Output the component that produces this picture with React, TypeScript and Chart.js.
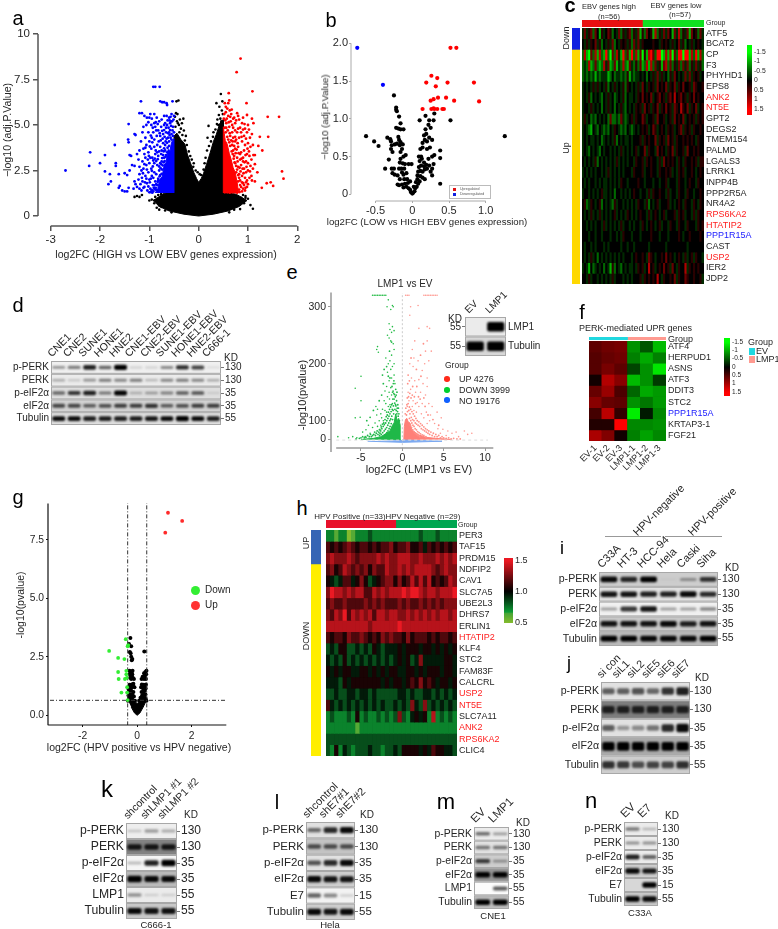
import React, { useEffect, useRef } from 'react';
import { Chart, registerables } from 'chart.js';
Chart.register(...registerables);

const FONT = '"Liberation Sans", Arial, sans-serif';
const INK = '#262626';

/* ---------- panel a ---------- */
const aBlue = [[-2.7,2.5],[-2.22,2.75],[-2.2,3.5],[-2,2.9],[-1.9,3.35],[-1.9,2.45],[-1.8,2.3],[-1.83,1.75],[-1.78,1.9],[-1.7,3.9],[-1.68,2.9],[-1.68,2.75],[-1.62,2.3],[-1.6,1.65],[-1.62,1.55],[-1.55,1.4],[-1.5,1.35],[-1.45,1.35],[-1.42,1.55],[-1.5,2.35],[-1.45,2.25],[-1.4,2.5],[-1.42,5.05],[-1.43,4.2],[-1.42,4.05],[-1.3,4.5],[-1.28,4.45],[-1.4,3.35],[-1.37,3.3],[-1.35,2.8],[-1.3,2.75],[-1.3,1.9],[-1.28,1.75],[-1.32,1.5],[-1.25,1.6],[-1.25,3.4],[-1.22,3.1],[-1.2,2.7],[-1.2,2.3],[-1.15,2.1],[-1.17,6.3],[-1.2,5.65],[-1.15,5.65],[-1.1,5.5],[-1.05,5.4],[-1,5.4],[-.98,5.6],[-.92,7.1],[-.88,7.1],[-.79,7.1],[-.78,6.3],[-.74,6.25],[-.7,6.25],[-.64,6.1],[-.65,6.2],[-.53,6.3],[-.9,5.6],[-.85,5.4],[-.8,5.2],[-.75,5.3],[-.7,5.5],[-.65,5.5],[-.6,5.4],[-.55,5.6],[-.5,5.5],[-1.12,4.9],[-1.08,4.3],[-1.02,4.6],[-.96,5.0],[-.92,4.6],[-.88,4.9],[-.82,4.7],[-.76,4.9],[-.7,5.0],[-.64,5.0],[-.58,5.1],[-1.12,3.7],[-1.06,3.9],[-1,4.1],[-.95,4.3],[-.9,4.2],[-.85,4.4],[-.78,4.4],[-.72,4.5],[-.66,4.6],[-.6,4.6],[-1.14,3.0],[-1.08,3.2],[-1.02,3.5],[-.96,3.7],[-.9,3.8],[-.84,3.9],[-.78,3.8],[-.72,4.0],[-.68,3.6],[-1.12,2.6],[-1.06,2.8],[-1,2.9],[-.94,3.2],[-.88,3.4],[-.82,3.3],[-.76,3.4],[-.7,3.2],[-1.14,1.9],[-1.08,2.2],[-1.02,2.4],[-.96,2.6],[-.9,2.9],[-.84,2.8],[-.78,2.9],[-1.1,1.6],[-1.05,1.8],[-1,2],[-.95,2.2],[-.9,2.4],[-.86,2.3],[-1.04,1.4],[-.98,1.5],[-.93,1.7],[-.88,1.9],[-.84,1.7],[-.92,1.35],[-.88,1.45],[-1.16,1.4],[-1.22,2],[-1.1,3.4],[-1.17,4.1],[-.98,3.2],[-.92,2.1],[-.8,2.5],[-.75,3.0]];
const aBlueDense = [[-.97,1.32],[-.95,1.42],[-.91,1.55],[-.9,1.68],[-.87,1.55],[-.85,1.42],[-.83,1.88],[-.82,2.05],[-.8,2.72],[-.79,2.18],[-.77,2.62],[-.76,2.85],[-.75,2.32],[-.74,3.18],[-.73,2.78],[-.72,3.35],[-.71,3.55],[-.7,3.72],[-.69,3.02],[-.68,3.9],[-.67,4.1],[-.66,3.35],[-.65,4.25],[-.64,4.02],[-.63,3.75],[-.62,4.3],[-.61,4.85],[-.6,4.1],[-.59,4.45],[-.58,4.72],[-.57,4.3],[-.56,4.95],[-.55,4.5],[-.54,5.2],[-.53,4.7],[-.52,4.9],[-.51,5.3],[-.5,4.6],[-.52,4.4],[-.55,4.2],[-.6,3.85],[-.64,3.5],[-.67,3.25],[-.71,2.95],[-.74,2.55],[-.78,2.25],[-.82,1.95],[-.86,1.75],[-.9,1.5],[-.94,1.28],[-1.0,1.3],[-1.02,1.62],[-.99,1.85],[-.97,2.05],[-.95,2.48],[-.93,2.72],[-.92,3.05],[-.89,3.15],[-.87,3.6],[-.86,3.02],[-.84,3.5],[-.83,3.12],[-.81,4.1],[-.8,3.55],[-.79,4.55],[-.77,4.15],[-.75,3.6],[-.74,4.68],[-.73,4.25],[-.7,4.72],[-.69,4.35],[-.68,5.1],[-.66,4.85],[-.63,5.25],[-.62,4.55],[-.59,5.25],[-.57,5.45],[-.56,5.2],[-1.05,2.55],[-1.03,3.1],[-1.01,3.3],[-.99,3.82],[-.97,4.42],[-.94,4.05],[-.93,4.85],[-.9,5.1],[-.86,4.7],[-.83,5.05],[-.87,5.15],[-1.08,3.75],[-1.1,2.85],[-1.13,2.35],[-1.06,2.05],[-1.09,1.85],[-1.12,1.55],[-1.18,1.75],[-1.2,1.5],[-1.16,2.5],[-1.2,3.6],[-1.14,4.6],[-1.06,5.0],[-1.02,5.15],[-.95,5.35]];
const aRed = [[.85,8.65],[.77,7.9],[1.09,6.85],[.61,6.75],[.97,6.2],[.62,6.35],[.53,6.2],[.6,6.2],[.63,5.8],[1.4,5.45],[1.63,5.45],[.98,5.55],[1.08,5.35],[.78,5.65],[1.11,5.1],[1,5],[1.24,4.35],[1.41,4.35],[1.21,3.85],[1.29,3.6],[1.11,3.35],[1.14,3.35],[1.07,3.1],[1.14,2.85],[1.05,2.75],[1.19,2.4],[1,2.5],[1.69,2.45],[1.72,2.05],[1.38,1.8],[1.46,1.85],[1.51,1.65],[1.28,1.55],[1.14,1.9],[1,1.75],[.55,5.7],[.6,5.5],[.66,5.6],[.72,5.4],[.74,5.1],[.82,5.3],[.88,5.1],[.94,4.8],[.56,5.1],[.62,4.9],[.68,5],[.74,4.7],[.8,4.8],[.86,4.6],[.92,4.4],[.98,4.6],[1.04,4.3],[1.08,4.5],[.64,4.4],[.7,4.3],[.76,4.2],[.82,4.3],[.88,4.1],[.94,3.9],[1,4.0],[1.05,3.8],[.68,3.9],[.74,3.7],[.8,3.8],[.86,3.5],[.92,3.6],[.98,3.4],[1.03,3.3],[.72,3.3],[.78,3.2],[.84,3.1],[.9,3.2],[.96,3.0],[1.0,2.9],[.74,2.9],[.8,2.7],[.86,2.8],[.92,2.6],[.96,2.4],[.76,2.4],[.82,2.3],[.88,2.2],[.94,2.1],[.98,1.95],[.8,1.9],[.84,1.7],[.9,1.8],[.95,1.55],[.82,1.45],[.88,1.35],[.76,1.4],[1.03,2.1],[1.08,1.95],[.78,4.6],[.9,3.0],[.7,3.6]];
const aRedDense = [[.51,5.35],[.52,5.6],[.53,4.85],[.54,5.25],[.55,4.6],[.56,4.85],[.57,5.35],[.58,4.35],[.59,4.7],[.6,4.2],[.61,5.15],[.62,4.05],[.63,4.55],[.64,3.85],[.65,5.2],[.66,4.15],[.67,3.55],[.68,4.6],[.69,3.4],[.7,4.85],[.71,3.15],[.72,3.85],[.73,2.95],[.74,4.1],[.75,3.45],[.76,2.75],[.77,3.65],[.78,2.55],[.79,3.0],[.8,2.25],[.81,3.45],[.82,2.1],[.83,2.65],[.84,1.95],[.85,2.45],[.86,1.6],[.87,3.15],[.88,1.85],[.89,2.6],[.9,1.5],[.91,2.35],[.92,1.7],[.93,2.95],[.94,1.4],[.95,3.35],[.96,1.85],[.97,2.7],[.98,1.6],[.99,3.7],[.53,1.3],[.58,1.3],[.63,1.28],[.68,1.3],[.73,1.3],[.78,1.28],[.83,1.32],[.84,4.85],[.9,4.75],[.96,4.25],[.87,4.35],[.93,5.05],[1.02,3.55],[1.02,4.75],[1.04,2.45],[1.07,2.2],[1.1,2.6],[1.1,3.9],[.76,5.25],[.7,5.35],[.64,5.45],[.58,5.9],[.67,5.85],[.8,5.5],[.9,5.4],[.55,6.0],[.84,3.4],[.79,4.0],[.74,4.35],[.69,4.1]];
const aBlack = [[.45,6.7],[.36,6.2],[.48,6.3],[.42,6.0],[.47,5.8],[.49,5.6],[.44,5.35],[.38,5.3],[.4,5.0],[-.41,6.35],[-.45,6.3],[-.46,5.65],[-.43,5.6],[-.31,5.35],[-.38,5.3],[-.34,5.1],[-.44,5.2],[-.4,5.0],[-.47,4.9],[-.36,4.8],[-.3,4.7],[-.26,4.4],[-1.15,1.15],[-1.3,1.05],[-1.2,1.05],[-1.25,1.1],[-1,.85],[-.95,.9],[-.9,.85],[-.8,.35],[-.75,.5],[1.05,.6],[1.1,.4],[.95,1.1],[.9,1.15],[.95,1],[1,.95],[.75,.95],[.7,.6],[.2,4.95],[.3,4.6],[.18,4.3],[.12,2.9],[-.1,2.9],[.02,2.3],[-.02,2.4],[-.42,5.1],[-.48,5.45],[-.39,4.6],[-.33,4.45],[-.28,4.15],[-.24,3.9],[-.2,3.55],[-.17,3.3],[-.14,3.1],[-.11,2.7],[-.06,2.5],[.05,2.25],[.1,2.55],[.14,3.2],[.17,3.6],[.21,3.85],[.25,4.1],[.29,4.35],[.34,4.75],[.37,5.05],[.41,5.55],[.46,5.2],[.44,4.85],[-.88,1.05],[-.82,1.15],[-.76,1.2],[-.9,.7],[-.85,.45],[-.68,.3],[-.55,.2],[.62,.2],[.72,.35],[.84,.38],[.92,.7],[.86,1.0]];
const aBlackMass = [[-.92,.85],[-.7,1.25],[-.5,1.3],[-.5,4.4],[-.44,4.55],[-.36,4.2],[-.28,3.95],[-.23,3.4],[-.17,2.95],[-.1,2.4],[-.04,2.05],[0,1.85],[.05,2.05],[.1,2.35],[.16,2.85],[.22,3.35],[.3,4.1],[.36,4.5],[.43,5.1],[.5,5.3],[.5,1.3],[.76,1.2],[.98,.85],[.82,.52],[.6,.28],[.3,.1],[0,0],[-.3,.1],[-.6,.28],[-.82,.55]];
const aBlueMass = [[-.5,1.27],[-.5,4.25],[-.55,4.05],[-.58,3.6],[-.62,3.65],[-.66,2.95],[-.7,2.8],[-.74,2.15],[-.79,2],[-.83,1.5],[-.88,1.27]];
const aRedMass = [[.5,1.27],[.5,4.9],[.54,4.15],[.58,3.95],[.62,3.45],[.66,3.1],[.7,2.65],[.74,2.4],[.78,1.85],[.81,1.27]];
const aXTicks = [-3,-2,-1,0,1,2];
const aYTicks = [0,2.5,5,7.5,10];
const aYLabels = ['0','2.5','5.0','7.5','10'];

/* ---------- panel b ---------- */
const bRed = [[.52,1.94],[.6,1.94],[.26,1.57],[.34,1.54],[.19,1.48],[.48,1.48],[.84,1.48],[.32,1.43],[.35,1.28],[.46,1.28],[.29,1.26],[.25,1.24],[.57,1.24],[.91,1.23],[.14,1.13],[.26,1.13],[.29,1.14],[.3,1.13],[.34,1.13],[.41,1.13],[.43,1.13]];
const bBlue = [[-.75,1.94],[-.4,1.45]];
const bBlack = [[-.25,1.31],[-.22,1.15],[-.22,1.12],[-.21,1.1],[-.18,1.03],[-.16,.94],[-.22,.88],[-.19,.87],[-.12,.86],[-.16,.86],[-.63,.77],[-.52,.7],[-.46,.64],[-.34,.75],[-.3,.73],[-.29,.7],[-.19,.76],[-.18,.72],[-.16,.69],[-.28,.65],[-.24,.66],[-.21,.67],[-.17,.65],[-.13,.66],[-.29,.6],[-.27,.56],[-.14,.6],[-.16,.56],[-.09,.52],[-.32,.46],[-.16,.47],[-.12,.5],[-.17,.42],[-.13,.41],[-.1,.4],[-.05,.4],[-.01,.4],[-.37,.34],[-.28,.34],[-.25,.34],[-.18,.34],[-.15,.34],[-.11,.34],[-.27,.28],[-.24,.26],[-.14,.29],[-.12,.26],[-.08,.28],[-.2,.25],[-.11,.2],[-.07,.2],[-.17,.2],[-.2,.13],[-.18,.12],[-.14,.13],[-.1,.14],[-.06,.15],[-.03,.17],[-.12,.09],[-.08,.1],[-.05,.08],[-.03,.06],[-.02,.03],[0,.01],[.01,.02],[.03,.04],[.04,.08],[.06,.1],[.02,.1],[.08,.14],[.05,.16],[.1,.17],[.07,.2],[.11,.24],[.07,.25],[.14,.22],[.17,.2],[.08,.3],[.11,.31],[.14,.3],[.17,.33],[.2,.34],[.25,.3],[.27,.25],[.09,.36],[.12,.38],[.16,.37],[.23,.38],[.27,.34],[.29,.4],[.1,.44],[.13,.47],[.16,.42],[.19,.39],[.09,.5],[.12,.5],[.22,.47],[.27,.5],[.3,.52],[.38,.58],[.11,.6],[.14,.62],[.2,.6],[.24,.62],[.38,.48],[.14,.68],[.17,.72],[.2,.7],[.16,.78],[.19,.8],[.23,.75],[.27,.72],[.18,.86],[.22,.92],[.25,.88],[.18,1.04],[.1,.98],[.23,.98],[.29,.98],[.3,1.07],[.52,.98],[1.26,.77],[.38,.14]];
const bXTicks = [-.5,0,.5,1];
const bXLabels = ['-0.5','0','0.5','1.0'];
const bYTicks = [0,.5,1,1.5,2];
const bYLabels = ['0','0.5','1.0','1.5','2.0'];

/* ---------- panel c ---------- */
const cGenes = ['ATF5','BCAT2','CP','F3','PHYHD1','EPS8','ANK2','NT5E','GPT2','DEGS2','TMEM154','PALMD','LGALS3','LRRK1','INPP4B','PPP2R5A','NR4A2','RPS6KA2','HTATIP2','PPP1R15A','CAST','USP2','IER2','JDP2'];
const cRedGenes = ['ANK2','NT5E','RPS6KA2','HTATIP2','USP2'];
const cBlueGenes = ['PPP1R15A'];
const cRows = [
'363562641534652436253562536152645172536364163725361645263',
'435354635243536243545352636354444544354543534635243534543',
'271062717218206273182618271605178628801717062880881728172',
'232712621273612613272163252612717263516726253626362536352',
'232323132333124233232513233434243536353425364343636354534',
'343435353435243534352543435364354536454635463546445365445',
'343524343243534234352433435464546345645356474564535464544',
'344353434243534243532434354536453546354645365475463546345',
'353423243434262232632345354465344536445345364546345453545',
'343214324323243543232432343454534653454354534563545354454',
'343433434234343524343343444535454463545364535445454543544',
'343243432434434343534343453446354436454354635445364454544',
'434343524343434353434344354453545443536454543543544545355',
'343434344343534343434443544453445443544545343545344543454',
'434344343433434343544344445443444344344534443544345443544',
'344343434533434244343434544344353544544353443544354434454',
'452354345243432534434343435443524345344453434543544354354',
'434353435343434534343543434544353454345344453545344353544',
'443434344353434343534434344354345434534435443544354443545',
'444344344344434434354443444344445444344434444543445444454',
'434434344434344444344344344444434444444344444444434444444',
'434353424343434343434443454454365434454645434543534535443',
'343142343424315243243433435453474534546453643544735454544',
'443534434343435344434343444535454547435445463544654454453',
];

/* ---------- panel f ---------- */
const fGenes = ['ATF4','HERPUD1','ASNS','ATF3','DDIT3','STC2','PPP1R15A','KRTAP3-1','FGF21'];
const fSamples = ['EV-1','EV-2','EV-3','LMP1-1','LMP1-2','LMP1-3'];
const fValues = [
[.55,.65,.7,-.85,-.5,-1.1],
[.5,.6,.65,-.75,-1,-.75],
[.5,.7,.55,-.4,-.85,-1.35],
[.1,1.05,.8,-1.1,-.85,-.35],
[.6,.9,.45,-.6,-1,-.9],
[.8,.6,.55,-.85,-.7,-.9],
[.4,1.1,.3,-1.4,-.15,-.8],
[.2,.2,1.5,-.8,-.8,-.85],
[1,.75,.1,-.75,-.95,-.8],
];

/* ---------- panel h ---------- */
const hGenes = ['PER3','TAF15','PRDM15','NDFIP2','CAV1','SLC7A5','UBE2L3','DHRS7','ERLIN1','HTATIP2','KLF4','STC2','FAM83F','CALCRL','USP2','NT5E','SLC7A11','ANK2','RPS6KA2','CLIC4'];
const hRedGenes = ['HTATIP2','USP2','NT5E','ANK2','RPS6KA2'];
const hRows = [
'2212201222322222222222322232222',
'6565676566565667566755646565656',
'7877787677778787788877877787878',
'6756876767576687787878888767877',
'5434664575345677575686868565687',
'7988787886687878889899878878889',
'6766766667676766676766767676777',
'7687968787868878877878787878878',
'8888888888788888898888888888888',
'6566576676565767665756665656656',
'3435533434354344454555455454545',
'4343534343434343454534744444554',
'5454554455454545544554545554554',
'4443545555555454554565756545545',
'3343344344343333344343344343434',
'6434343434343433434374373434343',
'2322232523223232373245452823232',
'2222222122222222222222222222222',
'3333333333333333333333333333333',
'3252432333433233435555454655443',
];

/* ---------- panel e ---------- */
const eGreen = [[-1.7,312],[-1.2,302],[-1.1,300],[-1.4,295],[-1.6,270],[-1.3,255],[-1.5,260],[-1.2,265],[-1,258],[-1.8,250],[-1.6,245],[-1.4,240],[-3,230],[-3.1,225],[-2.9,220],[-1.1,235],[-1,225],[-1.3,215],[-1.5,205],[-2,210],[-1.7,200],[-1.2,195],[-1,200],[-1.4,190],[-1.8,185],[-1,180],[-1.3,175],[-1.6,170],[-1.1,165],[-5,178],[-5.7,157],[-5,135],[-5.7,105],[-5.1,106],[-3.2,125],[-3.1,110],[-3,120],[-2.5,105],[-2.2,135],[-2,130],[-1.9,160],[-2.1,152],[-1.6,150],[-1.8,142],[-1.4,158],[-2.4,120],[-2.6,112],[-1.5,128],[-1.7,125],[-1.9,115],[-2.1,118],[-2.3,100],[-2.8,100],[-3.3,96],[-3.6,88],[-4.1,92],[-4.4,84],[-4.8,80],[-3,90],[-2.6,92],[-2.7,85],[-3.9,78],[-4.5,72],[-5.5,70],[-6,72],[-6.5,70],[-7.8,72],[-1.3,145],[-1.2,150],[-1.05,148],[-1.2,130],[-1.55,138],[-.9,165],[-1.85,300],[-3.6,320],[-3.4,320],[-3.2,320],[-3,320],[-2.8,320],[-2.6,320],[-2.4,320],[-2.2,320],[-2,320]];
const eGreenDense = [[-.55,128],[-.62,122],[-.7,135],[-.78,126],[-.85,142],[-.92,131],[-1,138],[-1.08,126],[-1.15,138],[-1.22,120],[-1.3,128],[-1.36,116],[-1.42,124],[-1.5,112],[-1.55,120],[-1.62,108],[-1.68,115],[-1.75,104],[-1.82,110],[-1.88,100],[-1.95,107],[-2.02,96],[-2.1,102],[-2.18,93],[-2.25,96],[-2.32,90],[-2.4,94],[-2.48,86],[-2.55,89],[-2.62,82],[-2.7,78],[-2.78,84],[-2.85,80],[-2.95,76],[-3.05,82],[-3.15,78],[-3.25,74],[-3.35,80],[-3.45,76],[-3.6,74],[-3.75,72],[-3.85,76],[-4,72],[-4.2,74],[-4.4,71],[-4.6,70],[-4.8,72],[-5,70],[-5.2,69],[-5.6,68],[-1.12,118],[-1.28,108],[-1.4,103],[-1.52,100],[-1.64,96],[-1.76,92],[-1.9,88],[-2.05,85],[-2.2,82],[-2.38,79],[-2.55,76],[-2.75,74],[-1.05,112],[-1.18,102],[-1.34,95],[-1.48,90],[-1.6,86],[-1.74,82],[-1.88,79],[-2.04,76],[-2.22,73],[-.9,120],[-.82,128],[-.74,118],[-.66,112],[-.58,116],[-.5,108],[-.42,112],[-.36,100],[-.48,122],[-.96,146],[-1.12,152],[-1.25,160],[-.75,145],[-.65,150],[-.8,155],[-1.02,170],[-1.5,175],[-1.7,178],[-2.3,165],[-2.5,145],[-2.8,135],[-3.5,118],[-3.9,106],[-4.3,100],[-2.4,180],[-1.9,195],[-2.2,190],[-1.55,222],[-1.3,238]];
const ePink = [[1,300],[1.9,302],[.9,285],[3,265],[3.3,262],[2,262],[1.5,240],[1.2,225],[3,240],[2.8,222],[3.5,222],[1.4,210],[1.9,205],[2.7,200],[3.2,205],[.9,200],[1.3,195],[2.4,188],[1.1,175],[1.5,170],[2,172],[2.5,165],[3,175],[3,160],[1,155],[1.6,150],[2.2,150],[2.8,145],[1.3,135],[1.8,132],[2.4,130],[3.2,130],[3.6,125],[4.2,115],[2.9,115],[2,125],[1.2,125],[.8,135],[.7,150],[2.6,105],[3.3,100],[3.9,95],[4.7,105],[4.9,85],[5.5,82],[6,78],[6.5,80],[7.5,82],[7.9,76],[8.4,78],[4.3,86],[3,95],[2.3,112],[1.7,115],[1.4,118],[.6,125],[3.4,110],[4.6,78],[5.3,74],[6.8,72],[3.2,320],[3.4,320],[3.6,320],[3.8,320],[4,320],[4.2,320],[.4,320],[.6,320],[.8,320],[2.6,320],[2.8,320],[3,320]];
const ePinkDense = [[.35,112],[.42,122],[.5,110],[.55,128],[.62,116],[.7,130],[.78,118],[.85,124],[.92,112],[1,120],[1.08,106],[1.16,116],[1.24,102],[1.32,112],[1.4,100],[1.48,108],[1.56,96],[1.64,104],[1.72,94],[1.8,100],[1.9,92],[2,98],[2.1,90],[2.2,95],[2.3,86],[2.4,92],[2.5,84],[2.6,89],[2.7,82],[2.8,86],[2.9,80],[3,84],[3.1,78],[3.2,82],[3.3,76],[3.45,80],[3.6,74],[3.75,78],[3.9,72],[4.05,76],[4.2,72],[4.4,74],[4.6,70],[4.8,72],[5,70],[5.3,69],[5.6,70],[5.9,68],[6.2,69],[6.6,68],[7,68],[1.02,100],[1.15,96],[1.28,92],[1.42,90],[1.55,86],[1.7,84],[1.85,81],[2.02,79],[2.2,77],[2.4,75],[2.6,74],[2.85,72],[.86,104],[.98,92],[1.12,88],[1.26,84],[1.4,81],[1.56,78],[1.72,76],[1.9,74],[2.1,72],[.6,140],[.75,142],[.9,148],[1.05,140],[1.2,145],[1.45,142],[1.6,130],[1.95,142],[2.15,138],[.65,165],[.85,170],[1.25,160],[1.75,160],[2.25,178],[2.6,140],[2.75,125],[3.1,110],[3.7,102],[4.4,92],[1.05,210],[1.7,190],[2.2,215],[2.55,235],[.7,180]];
const eGreenMass = [[-.18,66],[-.26,92],[-.44,104],[-.62,100],[-.8,112],[-1,96],[-1.2,92],[-1.5,82],[-1.9,78],[-2.6,72],[-3.5,69],[-5,67]];
const ePinkMass = [[.18,66],[.24,90],[.38,102],[.55,104],[.7,98],[.92,96],[1.15,84],[1.5,80],[2,75],[2.8,71],[4,69],[6,67]];
const eNoMass = [[-4.2,64],[0,62],[4.8,64],[0,66]];
const eXTicks = [-5,0,5,10];
/* the printed y axis is squeezed below 100: the tick printed as 0 sits where 67 falls on the upper part's scale */
const eYTicks = [67,100,200,300];
const eYLabels = ['0','100','200','300'];

/* ---------- panel g ---------- */
const gRed = [[1.13,8.65],[1.65,8.3],[1.03,7.8]];
const gGreen = [[-1.03,2.75],[-.7,2.45],[-.47,2.4],[-.42,3.25],[-.35,2.95],[-.33,3.0],[-.7,1.85],[-.68,1.55],[-.45,1.55],[-.4,1.9],[-.4,1.75],[-.38,1.6],[-.58,.97],[-.37,.97],[-.35,.65],[-.37,1.2]];
const gBlack = [[-.25,3.3],[-.3,3.05],[-.22,2.95],[-.27,2.7],[-.24,2.65],[-.22,2.5],[-.18,2.4],[-.2,2.35],[.26,2.73],[-.28,1.9],[-.25,1.85],[-.2,1.85],[-.17,1.9],[-.27,1.75],[-.23,1.7],[-.18,1.75],[-.26,1.6],[-.22,1.55],[-.16,1.6],[-.12,1.55],[.34,1.9],[.3,1.85],[.25,1.8],[.33,1.75],[.28,1.7],[.2,1.65],[.32,1.55],[.25,1.55],[.16,1.55],[-.3,1.2],[-.25,1.25],[-.2,1.2],[-.15,1.25],[-.1,1.2],[.3,1.25],[.25,1.2],[.2,1.25],[.14,1.2],[-.3,1.05],[-.22,1.05],[-.14,1.0],[.28,1.05],[.22,1.0],[.16,1.0],[-.32,.85],[-.26,.9],[-.18,.9],[-.12,.8],[.3,.9],[.24,.88],[.18,.85],[.12,.75],[-.28,1.3],[-.2,1.32],[-.14,1.35],[.32,1.32],[.24,1.3],[.17,1.32],[-.32,1.12],[-.24,1.14],[.31,1.14],[.22,1.12],[-.3,.72],[.31,.72],[-.34,.62],[.34,.62],[-.22,.76],[.2,.74],[-.08,.62],[.07,.62],[-.24,1.8],[-.2,1.7],[.29,1.6],[.22,1.6]];
const gBlackMass = [[-.33,.62],[-.32,.8],[-.2,.85],[-.12,.68],[-.05,.55],[0,.5],[.05,.55],[.12,.68],[.2,.85],[.32,.8],[.33,.62],[.22,.35],[.1,.1],[0,0],[-.1,.1],[-.22,.35]];
const gXTicks = [-2,0,2];
const gYTicks = [0,2.5,5,7.5];
const gYLabels = ['0.0','2.5','5.0','7.5'];

/* ---------- western blots (band intensity 0..1 per lane) ---------- */
const dLanes = ['CNE1','CNE2','SUNE1','HONE1','HNE2','CNE1-EBV','CNE2-EBV','SUNE1-EBV','HONE1-EBV','HNE2-EBV','C666-1'];
const dNames = ['p-PERK','PERK','p-eIF2α','eIF2α','Tubulin'];
const dKd = ['130','130','35','35','55'];
const dBands = [
[.35,.45,.85,.55,1,.12,.12,.4,.8,.7,.08],
[.25,.15,.35,.45,.4,.45,.2,.4,.45,.4,.25],
[.5,.75,.85,.45,1,.2,.3,.4,.55,.6,.08],
[.65,.65,.55,.6,.7,.7,.75,.55,.6,.7,.7],
[.95,.95,.85,.85,.85,.85,.9,.95,1,.95,.85],
];
const eLanes = ['EV','LMP1'];
const eNames = ['LMP1','Tubulin'];
const eKd = ['55','55'];
const eBands = [[0,1],[1,1]];
const iLanes = ['C33A','HT-3','HCC-94','Hela','Caski','Siha'];
const iNames = dNames;
const iKd = dKd;
const iBands = [
[.95,.8,1,.03,.3,.75],
[.9,.9,.85,.85,.95,.8],
[.3,.75,.9,.3,.3,.4],
[.9,.9,.9,.95,.85,.9],
[1,1,.95,.95,.95,1],
];
const jLanes = ['si con','siL1','siL2','siE5','siE6','siE7'];
const jBands = [
[.55,.55,.6,.5,.75,.85],
[.75,.75,.75,.75,.75,.75],
[.55,.3,.35,.45,.8,.95],
[1,1,1,1,1,1],
[.75,.7,.6,.65,.65,.75],
];
const kLanes = ['shcontrol','shLMP1 #1','shLMP1 #2'];
const kNames = ['p-PERK','PERK','p-eIF2α','eIF2α','LMP1','Tubulin'];
const kKd = ['130','130','35','35','55','55'];
const kBands = [[.15,.3,.25],[.85,.85,.85],[.2,.85,1],[1,.95,.95],[.35,.1,.1],[.95,.9,.9]];
const lLanes = ['shcontrol','shE7#1','shE7#2'];
const lNames = ['p-PERK','PERK','p-eIF2α','eIF2α','E7','Tubulin'];
const lKd = ['130','130','35','35','15','55'];
const lBands = [[.5,.8,.95],[.6,.6,.6],[.6,.8,.95],[.95,.9,.9],[.55,.4,.12],[.95,.9,.95]];
const mLanes = ['EV','LMP1'];
const mBands = [[.5,.3],[.45,.45],[.7,.3],[1,1],[0,.6],[1,1]];
const nLanes = ['EV','E7'];
const nBands = [[.45,.2],[.35,.35],[.85,.55],[.95,.9],[0,1],[1,.95]];

/* ---------- helpers ---------- */
type Area = { l: number; t: number; r: number; b: number };
type Spec = { key: string; rect: { x: number; y: number; w: number; h: number }; config: () => any };
const pts = (a: number[][]) => a.map(([x, y]) => ({ x, y }));
const off = { legend: { display: false }, tooltip: { enabled: false } };
const fnt = (size: number) => ({ family: FONT, size });

const fit = (w?: number, h?: number) => (s: any) => {
  if (w != null) s.width = w;
  if (h != null) s.height = h;
  s.paddingLeft = s.paddingRight = s.paddingTop = s.paddingBottom = 0;
};
const rectOf = (a: Area, m: Area) => ({ x: a.l - m.l, y: a.t - m.t, w: a.r - a.l + m.l + m.r, h: a.b - a.t + m.t + m.b });
const at = (v1: number, p1: number, v2: number, p2: number, p: number) => v1 + ((p - p1) * (v2 - v1)) / (p2 - p1);

const dots = (data: number[][], color: string, r: number) => ({ data: pts(data), backgroundColor: color, borderWidth: 0, pointRadius: r, pointHoverRadius: r });
const mass = (data: number[][], color: string) => ({ data: pts(data), showLine: true, fill: 'shape', backgroundColor: color, borderColor: color, borderWidth: 1, pointRadius: 0, tension: 0 });
const rule = (data: number[][], color: string, dash: number[], w = 1) => ({ data: pts(data), showLine: true, fill: false, borderColor: color, borderWidth: w, borderDash: dash, pointRadius: 0, tension: 0 });

function volcano(o: any): Spec {
  const { area: a, m } = o;
  const sx = o.xCal, sy = o.yCal;
  const xMin = at(sx[0], sx[1], sx[2], sx[3], a.l), xMax = at(sx[0], sx[1], sx[2], sx[3], a.r);
  const yMin = at(sy[0], sy[1], sy[2], sy[3], a.b), yMax = at(sy[0], sy[1], sy[2], sy[3], a.t);
  const axisLines = {
    id: 'axisLines',
    afterDatasetsDraw(c: any) {
      const ctx = c.ctx, ca = c.chartArea;
      ctx.save();
      ctx.strokeStyle = o.axisColor;
      ctx.lineWidth = o.axisWidth;
      ctx.beginPath();
      ctx.moveTo(c.scales.x.getPixelForValue(o.xSpan[0]), ca.bottom);
      ctx.lineTo(c.scales.x.getPixelForValue(o.xSpan[1]), ca.bottom);
      ctx.moveTo(ca.left, c.scales.y.getPixelForValue(o.ySpan[0]));
      ctx.lineTo(ca.left, c.scales.y.getPixelForValue(o.ySpan[1]));
      ctx.stroke();
      ctx.restore();
    },
  };
  const axis = (ticks: number[], labels: string[] | undefined, min: number, max: number, pad: number, tl: number) => ({
    type: 'linear', min, max,
    afterBuildTicks: (s: any) => { s.ticks = ticks.map((value) => ({ value })); },
    border: { display: false },
    grid: { drawOnChartArea: false, drawTicks: true, tickLength: tl, tickColor: o.axisColor, lineWidth: o.tickWidth ?? 1, color: o.axisColor },
    ticks: {
      autoSkip: false, color: INK, padding: pad, maxRotation: 0, font: fnt(o.font),
      callback: (v: number) => { const i = ticks.indexOf(v); return labels ? labels[i] : String(v); },
    },
  });
  return {
    key: o.key,
    rect: rectOf(a, m),
    config: () => ({
      type: 'scatter',
      data: { datasets: o.datasets },
      options: {
        animation: false, responsive: false,
        layout: { padding: { left: 0, top: m.t, right: m.r, bottom: 0 } },
        plugins: off,
        scales: {
          x: { ...axis(o.xTicks, o.xLabels, xMin, xMax, o.xPad, o.tl), position: 'bottom', afterFit: fit(undefined, m.b) },
          y: { ...axis(o.yTicks, o.yLabels, yMin, yMax, o.yPad, o.tl), position: 'left', afterFit: fit(m.l) },
        },
      },
      plugins: [axisLines],
    }),
  };
}

function stack(key: string, a: Area, values: number[], colors: string[], horizontal: boolean): Spec {
  const total = values.reduce((s, v) => s + v, 0);
  return {
    key,
    rect: { x: a.l, y: a.t, w: a.r - a.l, h: a.b - a.t },
    config: () => ({
      type: 'bar',
      data: { labels: [''], datasets: values.map((v, i) => ({ data: [v], backgroundColor: colors[i], barPercentage: 1, categoryPercentage: 1, borderWidth: 0 })) },
      options: {
        animation: false, responsive: false, indexAxis: horizontal ? 'y' : 'x', plugins: off,
        scales: horizontal
          ? { x: { stacked: true, display: false, min: 0, max: total }, y: { stacked: true, display: false } }
          : { x: { stacked: true, display: false }, y: { stacked: true, display: false, min: 0, max: total, reverse: true } },
      },
    }),
  };
}

function heat(o: any): Spec {
  const { area: a, m, values, color, genes, geneColor, xLabels } = o;
  const cols = values[0].length;
  const labels = xLabels ?? Array.from({ length: cols }, (_, i) => String(i + 1));
  const under = {
    id: 'under',
    beforeDatasetsDraw(c: any) {
      const ca = c.chartArea;
      c.ctx.save();
      c.ctx.fillStyle = '#000';
      c.ctx.fillRect(ca.left, ca.top, ca.right - ca.left, ca.bottom - ca.top);
      c.ctx.restore();
    },
  };
  const datasets = values.map((row: number[], r: number) => ({
    data: row.map(() => [r, r + 1]),
    backgroundColor: row.map(color),
    barPercentage: 1, categoryPercentage: 1, borderWidth: 0, grouped: false,
  }));
  return {
    key: o.key,
    rect: rectOf(a, m),
    config: () => ({
      type: 'bar',
      data: { labels, datasets },
      options: {
        animation: false, responsive: false,
        layout: { padding: { left: m.l, top: m.t, right: 0, bottom: xLabels ? 0 : m.b } },
        plugins: off,
        scales: {
          x: xLabels
            ? { position: 'bottom', grid: { display: false, drawTicks: false }, border: { display: false }, afterFit: fit(undefined, m.b),
                ticks: { autoSkip: false, minRotation: 45, maxRotation: 45, padding: 2, color: INK, font: fnt(o.font) } }
            : { display: false },
          y: {
            type: 'linear', position: 'right', min: 0, max: values.length, reverse: true,
            afterBuildTicks: (s: any) => { s.ticks = genes.map((_: string, i: number) => ({ value: i + 0.5 })); },
            afterFit: fit(m.r), grid: { display: false, drawTicks: false }, border: { display: false },
            ticks: {
              autoSkip: false, padding: 2, font: fnt(o.font),
              color: (ctx: any) => geneColor(genes[Math.floor(ctx.tick.value)]),
              callback: (v: number) => genes[Math.floor(v)],
            },
          },
        },
      },
      plugins: [under],
    }),
  };
}

function colorbar(o: any): Spec {
  const { area: a, m, color, cal, ticks, labels, reverse } = o;
  const lo = at(cal[0], cal[1], cal[2], cal[3], reverse ? a.t : a.b);
  const hi = at(cal[0], cal[1], cal[2], cal[3], reverse ? a.b : a.t);
  const n = a.b - a.t;
  const datasets = Array.from({ length: n }, (_, i) => {
    const v0 = lo + ((hi - lo) * i) / n, v1 = lo + ((hi - lo) * (i + 1)) / n;
    return { data: [[v0, v1]], backgroundColor: color((v0 + v1) / 2), barPercentage: 1, categoryPercentage: 1, borderWidth: 0, grouped: false };
  });
  return {
    key: o.key,
    rect: rectOf(a, m),
    config: () => ({
      type: 'bar',
      data: { labels: [''], datasets },
      options: {
        animation: false, responsive: false,
        layout: { padding: { left: m.l, top: m.t, bottom: m.b, right: 0 } },
        plugins: off,
        scales: {
          x: { display: false },
          y: {
            type: 'linear', position: 'right', min: lo, max: hi, reverse: !!reverse,
            afterBuildTicks: (s: any) => { s.ticks = ticks.map((value: number) => ({ value })); },
            afterFit: fit(m.r), grid: { display: false, drawTicks: false }, border: { display: false },
            ticks: { autoSkip: false, padding: 2, color: INK, font: fnt(o.font), callback: (v: number) => labels[ticks.indexOf(v)] },
          },
        },
      },
    }),
  };
}

function blot(o: any): Spec {
  const { area: a, lanes, names, kd, bands, bgs } = o;
  const m: Area = o.m ?? { l: 62, t: 72, r: 52, b: 2 };
  const n = names.length;
  const th = o.th ?? 1;
  const strips = {
    id: 'strips',
    beforeDatasetsDraw(c: any) {
      const ctx = c.ctx, ca = c.chartArea, y = c.scales.y;
      ctx.save();
      names.forEach((_: string, r: number) => {
        const top = y.getPixelForValue(r) + 0.5, bot = y.getPixelForValue(r + 1) - 0.5;
        const g = bgs[r];
        ctx.fillStyle = `rgb(${g},${g},${g})`;
        ctx.fillRect(ca.left, top, ca.right - ca.left, bot - top);
        ctx.strokeStyle = '#a8a8a8';
        ctx.lineWidth = 1;
        ctx.strokeRect(ca.left + 0.5, top, ca.right - ca.left - 1, bot - top);
      });
      ctx.restore();
      ctx.filter = `blur(${o.blur ?? 0.9}px)`;
    },
    afterDatasetsDraw(c: any) { c.ctx.filter = 'none'; },
  };
  const datasets = bands.map((row: number[], r: number) => ({
    data: row.map((v) => { const h = v === 0 ? 0 : th * (0.06 + 0.14 * v); return [r + 0.5 - h, r + 0.5 + h]; }),
    backgroundColor: row.map((v) => { const g = Math.round(bgs[r] * (1 - Math.pow(v, 0.9))); return `rgb(${g},${g},${g})`; }),
    barPercentage: 0.84, categoryPercentage: 1, borderWidth: 0, grouped: false, borderRadius: 2, borderSkipped: false,
  }));
  const ticksAt = (s: any) => { s.ticks = names.map((_: string, i: number) => ({ value: i + 0.5 })); };
  const flip = !!o.flip;
  return {
    key: o.key,
    rect: rectOf(a, m),
    config: () => ({
      type: 'bar',
      data: { labels: lanes, datasets },
      options: {
        animation: false, responsive: false,
        layout: { padding: { left: 0, top: 0, right: 0, bottom: m.b } },
        plugins: off,
        scales: {
          x: {
            position: 'top', grid: { display: false, drawTicks: false }, border: { display: false }, afterFit: fit(undefined, m.t),
            ticks: { autoSkip: false, minRotation: 45, maxRotation: 45, padding: 1, color: INK, font: fnt(o.laneFont) },
          },
          y: {
            type: 'linear', position: flip ? 'right' : 'left', min: 0, max: n, reverse: true, afterBuildTicks: ticksAt,
            afterFit: fit(flip ? m.r : m.l), grid: { display: false, drawTicks: false }, border: { display: false },
            ticks: { autoSkip: false, padding: 2, color: INK, font: fnt(o.rowFont), callback: (v: number) => names[Math.floor(v)] },
          },
          y2: {
            type: 'linear', position: flip ? 'left' : 'right', min: 0, max: n, reverse: true, afterBuildTicks: ticksAt,
            afterFit: fit(flip ? m.l : m.r), border: { display: false },
            grid: { drawOnChartArea: false, drawTicks: true, tickLength: 3, tickColor: '#777', lineWidth: 1, color: '#777' },
            ticks: { autoSkip: false, padding: 1, color: INK, font: fnt(o.kdFont), callback: (v: number) => kd[Math.floor(v)] },
          },
        },
      },
      plugins: [strips],
    }),
  };
}

const rgColor = (v: number) => {
  const t = Math.min(1, Math.abs(v) / 1.5);
  return v >= 0 ? `rgb(${Math.round(255 * t)},0,0)` : `rgb(0,${Math.round(255 * t)},0)`;
};
const cColor = (v: number) => {
  const t = Math.pow(Math.min(1, Math.abs(v) / 1.5), 1.3);
  return v >= 0 ? `rgb(${Math.round(255 * t)},0,0)` : `rgb(0,${Math.round(255 * t)},0)`;
};
const hColor = (v: number) => {
  if (v >= 1) { const t = Math.min(1, (v - 1) / 0.5); return `rgb(${Math.round(235 * t)},${Math.round(25 * t)},${Math.round(35 * t)})`; }
  const t = Math.min(1, (1 - v) / 0.5);
  return t > 0.7 ? `rgb(${Math.round(70 + 200 * (t - 0.7))},${Math.round(165 + 70 * (t - 0.7))},${Math.round(55 - 30 * (t - 0.7))})` : `rgb(${Math.round(20 * t)},${Math.round(235 * t)},${Math.round(80 * t)})`;
};
const cGeneColor = (g: string) => (cRedGenes.includes(g) ? '#ff2020' : cBlueGenes.includes(g) ? '#2020ff' : INK);
const hGeneColor = (g: string) => (hRedGenes.includes(g) ? '#ff2020' : INK);
const cValues = cRows.map((s) => Array.from(s).map((ch) => (Number(ch) - 4) * 0.375));
const hValues = hRows.map((s) => Array.from(s).map((ch) => 0.5 + Number(ch) / 9));

const specs: Spec[] = [
  volcano({
    key: 'a', area: { l: 38, t: 30, r: 300, b: 226 }, m: { l: 36, t: 4, r: 8, b: 24 },
    xCal: [-3, 50.7, 2, 297.3], yCal: [0, 216, 10, 34], xTicks: aXTicks, yTicks: aYTicks, yLabels: aYLabels,
    xSpan: [-3, 2], ySpan: [0, 10], axisColor: '#555', axisWidth: 1.5, tickWidth: 1.5, font: 11.5, xPad: 2, yPad: 3, tl: 5,
    datasets: [dots(aRed, '#ff0000', 1.4), dots(aRedDense, '#ff0000', 1.4), dots(aBlue, '#0000ff', 1.4), dots(aBlueDense, '#0000ff', 1.4), mass(aRedMass, '#ff0000'), mass(aBlueMass, '#0000ff'), dots(aBlack, '#000', 1.3), mass(aBlackMass, '#000')],
  }),
  volcano({
    key: 'b', area: { l: 351, t: 38, r: 510, b: 201 }, m: { l: 36, t: 4, r: 6, b: 18 },
    xCal: [0, 412.3, 1, 485.7], yCal: [0, 194.3, 2, 43.3], xTicks: bXTicks, xLabels: bXLabels, yTicks: bYTicks, yLabels: bYLabels,
    xSpan: [-.5, 1], ySpan: [0, 2], axisColor: '#aaa', axisWidth: 1, font: 11, xPad: 1, yPad: 1, tl: 2,
    datasets: [dots(bRed, '#ff0000', 2.1), dots(bBlue, '#0000ff', 2.1), dots(bBlack, '#000', 2.1)],
  }),
  volcano({
    key: 'e', area: { l: 331, t: 293, r: 488, b: 448 }, m: { l: 30, t: 4, r: 6, b: 18 },
    xCal: [-5, 361, 5, 443.7], yCal: [100, 420.7, 300, 306.7], xTicks: eXTicks, yTicks: eYTicks, yLabels: eYLabels,
    xSpan: [-8.0, 11], ySpan: [45, 325], axisColor: '#999', axisWidth: 1.5, font: 10.5, xPad: 1, yPad: 2, tl: 3,
    datasets: [
      rule([[-8, 66], [10.5, 66]], '#dddddd', [3, 3]),
      rule([[0, 50], [0, 325]], '#cccccc', [2, 2]),
      mass(eNoMass, '#7aa8f0'),
      dots(ePink, '#ff9a92', 0.8), dots(ePinkDense, '#ff8f86', 0.9), dots(eGreen, '#22bb44', 0.8), dots(eGreenDense, '#1fb848', 0.9),
      mass(ePinkMass, '#ff8078'), mass(eGreenMass, '#1fb848'),
    ],
  }),
  volcano({
    key: 'g', area: { l: 48, t: 503, r: 226, b: 725 }, m: { l: 28, t: 4, r: 6, b: 16 },
    xCal: [-2, 82.7, 2, 191.7], yCal: [0, 715.3, 7.5, 539.7], xTicks: gXTicks, yTicks: gYTicks, yLabels: gYLabels,
    xSpan: [-3.27, 3.27], ySpan: [-.43, 9.05], axisColor: '#111', axisWidth: 1.2, font: 10.3, xPad: 3, yPad: 2, tl: 2,
    datasets: [
      dots(gRed, '#ff2a2a', 1.9), dots(gGreen, '#33ee33', 1.9),
      rule([[-.35, -.43], [-.35, 9.1]], '#333', [4, 2, 1, 2]), rule([[.35, -.43], [.35, 9.1]], '#333', [4, 2, 1, 2]),
      rule([[-3.2, .64], [3.25, .64]], '#333', [4, 2, 1, 2]),
      dots(gBlack, '#000', 2), mass(gBlackMass, '#000'),
    ],
  }),
  heat({ key: 'c', area: { l: 582, t: 28, r: 704, b: 284 }, m: { l: 2, t: 2, r: 60, b: 2 }, values: cValues, color: cColor, genes: cGenes, geneColor: cGeneColor, font: 9 }),
  stack('cg', { l: 582, t: 20, r: 704, b: 27 }, [56, 57], ['#e81010', '#10e020'], true),
  stack('cs', { l: 572, t: 28, r: 580, b: 284 }, [2, 22], ['#1020e0', '#ffd800'], false),
  colorbar({ key: 'cb', area: { l: 747, t: 45, r: 752, b: 115 }, m: { l: 1, t: 2, r: 24, b: 2 }, color: rgColor, cal: [-1.5, 52, 1.5, 109], reverse: true, ticks: [-1.5, -1, -.5, 0, .5, 1, 1.5], labels: ['-1.5', '-1', '-0.5', '0', '0.5', '1', '1.5'], font: 6.8 }),
  heat({ key: 'f', area: { l: 589, t: 341, r: 666, b: 441 }, m: { l: 30, t: 2, r: 60, b: 50 }, values: fValues, color: rgColor, genes: fGenes, geneColor: cGeneColor, font: 9, xLabels: fSamples }),
  stack('fg', { l: 589, t: 337, r: 666, b: 340 }, [3, 3], ['#20d8e0', '#ff9a90'], true),
  colorbar({ key: 'fb', area: { l: 724, t: 338, r: 730, b: 396 }, m: { l: 1, t: 2, r: 22, b: 2 }, color: rgColor, cal: [-1.5, 342, 1.5, 392], reverse: true, ticks: [-1.5, -1, -.5, 0, .5, 1, 1.5], labels: ['-1.5', '-1', '-0.5', '0', '0.5', '1', '1.5'], font: 6.5 }),
  heat({ key: 'h', area: { l: 326, t: 530, r: 457, b: 756 }, m: { l: 2, t: 2, r: 60, b: 2 }, values: hValues, color: hColor, genes: hGenes, geneColor: hGeneColor, font: 9 }),
  stack('hg', { l: 326, t: 520, r: 457, b: 528 }, [33, 29], ['#e8102a', '#00a651'], true),
  stack('hs', { l: 311, t: 530, r: 321, b: 756 }, [3, 17], ['#3565b5', '#ffee00'], false),
  colorbar({ key: 'hb', area: { l: 504, t: 558, r: 513, b: 623 }, m: { l: 1, t: 4, r: 22, b: 4 }, color: hColor, cal: [.5, 622.7, 1.5, 561], ticks: [.5, 1, 1.5], labels: ['0.5', '1.0', '1.5'], font: 9 }),
  blot({ key: 'bd', area: { l: 51, t: 361, r: 221, b: 425 }, lanes: dLanes, names: dNames, kd: dKd, bands: dBands, bgs: [240, 235, 222, 210, 222], laneFont: 10.6, rowFont: 10, kdFont: 10, m: { l: 50, t: 72, r: 54, b: 2 } }),
  blot({ key: 'be', area: { l: 465, t: 317, r: 506, b: 356 }, lanes: eLanes, names: eNames, kd: eKd, bands: eBands, bgs: [235, 215], laneFont: 10, rowFont: 10, kdFont: 10, flip: true, blur: 1.3, th: 1.2, m: { l: 24, t: 30, r: 50, b: 2 } }),
  blot({ key: 'bi', area: { l: 599, t: 572, r: 718, b: 646 }, lanes: iLanes, names: iNames, kd: iKd, bands: iBands, bgs: [205, 225, 240, 200, 185], laneFont: 11, rowFont: 10.6, kdFont: 10.5, m: { l: 46, t: 36, r: 40, b: 2 } }),
  blot({ key: 'bj', area: { l: 601, t: 682, r: 690, b: 774 }, lanes: jLanes, names: dNames, kd: dKd, bands: jBands, bgs: [225, 125, 225, 170, 205], laneFont: 10.8, rowFont: 10.6, kdFont: 10.5, th: 1.2, m: { l: 46, t: 36, r: 40, b: 2 } }),
  blot({ key: 'bk', area: { l: 126, t: 823, r: 177, b: 919 }, lanes: kLanes, names: kNames, kd: kKd, bands: kBands, bgs: [238, 130, 245, 185, 235, 200], laneFont: 10.5, rowFont: 12.2, kdFont: 12, m: { l: 60, t: 62, r: 50, b: 2 } }),
  blot({ key: 'bl', area: { l: 306, t: 822, r: 355, b: 920 }, lanes: lLanes, names: lNames, kd: lKd, bands: lBands, bgs: [225, 195, 225, 205, 242, 205], laneFont: 11, rowFont: 11.5, kdFont: 11.5, m: { l: 50, t: 42, r: 44, b: 2 } }),
  blot({ key: 'bm', area: { l: 474, t: 827, r: 509, b: 909 }, lanes: mLanes, names: kNames, kd: kKd, bands: mBands, bgs: [235, 225, 205, 150, 252, 190], laneFont: 11.5, rowFont: 10.4, kdFont: 10.4, m: { l: 46, t: 34, r: 36, b: 2 } }),
  blot({ key: 'bn', area: { l: 624, t: 822, r: 658, b: 906 }, lanes: nLanes, names: lNames, kd: lKd, bands: nBands, bgs: [235, 235, 235, 205, 215, 200], laneFont: 11.5, rowFont: 10.4, kdFont: 10.4, m: { l: 46, t: 30, r: 36, b: 2 } }),
];

function Panel({ spec }: { spec: Spec }) {
  const ref = useRef<HTMLCanvasElement | null>(null);
  useEffect(() => {
    const chart = new Chart(ref.current as HTMLCanvasElement, spec.config());
    return () => chart.destroy();
  }, []);
  const { x, y, w, h } = spec.rect;
  return <canvas ref={ref} width={w} height={h} style={{ position: 'absolute', left: x, top: y }} />;
}

function T({ x, y, s = 10, c = INK, a = 'left', r = 0, children, w }: any) {
  const tx = a === 'center' ? '-50%' : a === 'right' ? '-100%' : '0';
  return (
    <div style={{
      position: 'absolute', left: x, top: y, fontFamily: FONT, fontSize: s, color: c, fontWeight: w ?? 'normal', lineHeight: 1, whiteSpace: 'nowrap',
      transform: `translate(${tx},-50%) rotate(${r}deg)`, transformOrigin: a === 'left' ? '0 50%' : '50% 50%',
    }}>{children}</div>
  );
}
const Dot = ({ x, y, d, c }: any) => <div style={{ position: 'absolute', left: x - d / 2, top: y - d / 2, width: d, height: d, borderRadius: '50%', background: c }} />;
const Box = ({ x, y, w, h, c, b }: any) => <div style={{ position: 'absolute', left: x, top: y, width: w, height: h, background: c, border: b, boxSizing: 'border-box' }} />;

export default function App() {
  return (
    <div style={{ position: 'absolute', left: 0, top: 0, width: 778, height: 929, background: '#fff', overflow: 'hidden' }}>
      {specs.map((s) => <Panel key={s.key} spec={s} />)}

      <T x={18} y={18} s={20} a="center" c="#000">a</T>
      <T x={331} y={20} s={20} a="center" c="#000">b</T>
      <T x={570} y={5} s={20} a="center" c="#000" w="bold">c</T>
      <T x={18} y={305} s={20} a="center" c="#000">d</T>
      <T x={292} y={272} s={20} a="center" c="#000">e</T>
      <T x={582} y={312} s={20} a="center" c="#000">f</T>
      <T x={18} y={497} s={20} a="center" c="#000">g</T>
      <T x={302} y={508} s={20} a="center" c="#000">h</T>
      <T x={562} y={548} s={18} a="center" c="#000">i</T>
      <T x={569} y={663} s={18} a="center" c="#000">j</T>
      <T x={107} y={789} s={24} a="center" c="#000">k</T>
      <T x={277} y={802} s={20} a="center" c="#000">l</T>
      <T x={446} y={802} s={22} a="center" c="#000">m</T>
      <T x={591} y={801} s={22} a="center" c="#000">n</T>

      <T x={166} y={254} s={10.6} a="center">log2FC (HIGH vs LOW EBV genes expression)</T>
      <T x={7} y={130} s={10.6} a="center" r={-90}>−log10 (adj.P.Value)</T>

      <T x={427} y={222} s={9.6} a="center">log2FC (LOW vs HIGH EBV genes expression)</T>
      <T x={325} y={117} s={9.6} a="center" r={-90}>−log10 (adj.P.Value)</T>
      <Box x={449} y={185} w={42} h={14} c="#fff" b="1px solid #bbb" />
      <Box x={453} y={188} w={3} h={3} c="#e01010" />
      <Box x={453} y={193} w={3} h={3} c="#1020e0" />
      <T x={460} y={190} s={3.6} c="#555">Upregulated</T>
      <T x={460} y={195} s={3.6} c="#555">Downregulated</T>

      <T x={609} y={7} s={7.5} a="center">EBV genes high</T>
      <T x={609} y={17} s={7.5} a="center">(n=56)</T>
      <T x={676} y={6} s={7.5} a="center">EBV genes low</T>
      <T x={680} y={15} s={7.5} a="center">(n=57)</T>
      <T x={706} y={22} s={7}>Group</T>
      <T x={566} y={38} s={9} a="center" r={-90}>Down</T>
      <T x={566} y={148} s={9} a="center" r={-90}>Up</T>

      <T x={405} y={284} s={10} a="center">LMP1 vs EV</T>
      <T x={419} y={469} s={11} a="center">log2FC (LMP1 vs EV)</T>
      <T x={302} y={395} s={11} a="center" r={-90}>-log10(pvalue)</T>
      <T x={445} y={365} s={8.5}>Group</T>
      <Dot x={447} y={379} d={5.5} c="#ff2a1a" />
      <Dot x={447} y={390} d={5.5} c="#00d030" />
      <Dot x={447} y={400} d={5.5} c="#1060ff" />
      <T x={459} y={379} s={9}>UP 4276</T>
      <T x={459} y={390} s={9}>DOWN 3999</T>
      <T x={459} y={401} s={9}>NO 19176</T>
      <T x={448} y={319} s={10}>KD</T>

      <T x={579} y={328} s={9}>PERK-mediated UPR genes</T>
      <T x={668} y={338.5} s={9}>Group</T>
      <T x={748} y={342} s={9}>Group</T>
      <Box x={749} y={348} w={6} h={6.5} c="#20d8e0" />
      <Box x={749} y={356} w={6} h={6.5} c="#ff9a90" />
      <T x={756} y={351} s={9}>EV</T>
      <T x={756} y={359} s={9}>LMP1</T>

      <T x={139} y={747} s={10.5} a="center">log2FC (HPV positive vs HPV negative)</T>
      <T x={20} y={605} s={10.5} a="center" r={-90}>-log10(pvalue)</T>
      <Dot x={195} y={590} d={9} c="#33ee33" />
      <Dot x={195} y={605} d={9} c="#ff3333" />
      <T x={205} y={590} s={10}>Down</T>
      <T x={205} y={605} s={10}>Up</T>

      <T x={350} y={517} s={7.9} a="center">HPV Positive (n=33)</T>
      <T x={423} y={517} s={7.9} a="center">HPV Negative (n=29)</T>
      <T x={458} y={524} s={7}>Group</T>
      <T x={306} y={543} s={9} a="center" r={-90}>UP</T>
      <T x={306} y={636} s={9} a="center" r={-90}>DOWN</T>

      <T x={231} y={358} s={10} a="center">KD</T>
      <T x={635} y={534} s={11} r={-45}>HPV-negative</T>
      <T x={690} y={534} s={11} r={-45}>HPV-positive</T>
      <Box x={605} y={536} w={56} h={1} c="#999" />
      <Box x={665} y={536} w={57} h={1} c="#999" />
      <T x={732} y={568} s={10} a="center">KD</T>
      <T x={702} y={678} s={10} a="center">KD</T>
      <T x={191} y={815} s={10} a="center">KD</T>
      <T x={156} y={925} s={9.5} a="center">C666-1</T>
      <T x={367} y={815} s={10} a="center">KD</T>
      <T x={330} y={925} s={9.5} a="center">Hela</T>
      <T x={523} y={823} s={10} a="center">KD</T>
      <T x={493} y={916} s={9.5} a="center">CNE1</T>
      <T x={672} y={816} s={10} a="center">KD</T>
      <T x={640} y={913} s={9.5} a="center">C33A</T>
    </div>
  );
}
